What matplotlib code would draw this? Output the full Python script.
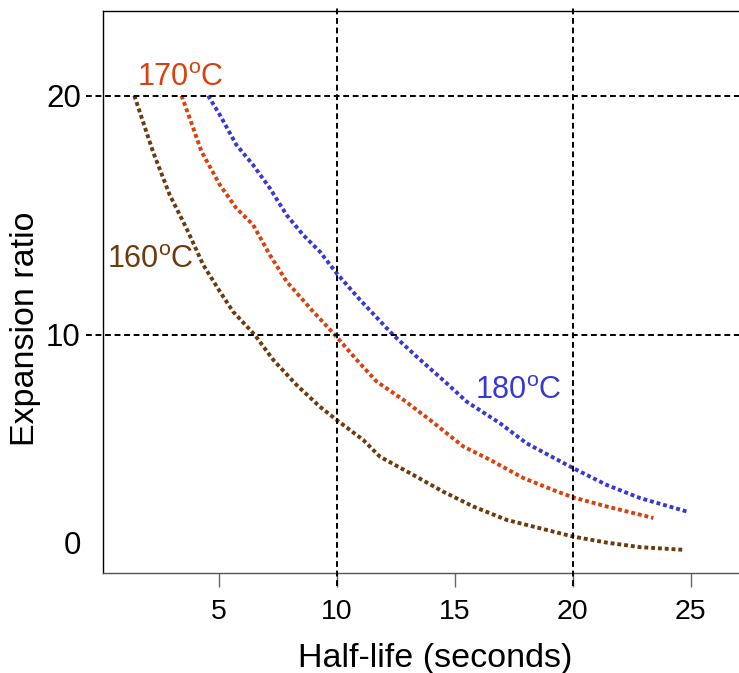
import matplotlib

matplotlib.use("Agg")
import matplotlib.pyplot as plt

plt.rcParams["font.family"] = ["Liberation Sans", "DejaVu Sans"]
plt.rcParams["mathtext.fontset"] = "custom"
plt.rcParams["mathtext.rm"] = "Liberation Sans"

# Curves (half-life in seconds, expansion ratio)
half_life_160 = [1.4, 2.19, 2.90, 3.61, 4.32, 5.03, 5.59, 6.51, 7.29, 8.28, 9.27, 9.98,
                 11.11, 11.82, 13.23, 14.50, 15.78, 17.19, 18.61, 20.02, 21.44, 22.86, 24.69]
ratio_160 = [20.0, 17.66, 15.85, 14.46, 12.93, 11.81, 10.97, 10.0, 8.96, 7.91, 7.00, 6.45,
             5.61, 4.91, 4.15, 3.45, 2.83, 2.27, 1.92, 1.57, 1.32, 1.13, 1.02]

half_life_170 = [3.40, 3.75, 4.10, 4.25, 5.03, 5.73, 6.44, 7.15, 7.86, 8.99, 9.91, 10.83,
                 11.68, 12.81, 13.94, 15.35, 16.49, 17.90, 19.32, 20.02, 21.44, 23.42]
ratio_170 = [20.0, 19.06, 18.08, 17.66, 16.27, 15.29, 14.60, 13.34, 12.23, 10.97, 10.0, 8.96,
             8.05, 7.29, 6.45, 5.34, 4.78, 4.02, 3.46, 3.21, 2.83, 2.35]

half_life_180 = [4.53, 5.03, 5.73, 6.44, 7.15, 7.86, 8.56, 9.27, 9.98, 10.97, 12.38, 13.38,
                 14.65, 15.50, 16.91, 18.04, 20.02, 21.44, 22.86, 24.84]
ratio_180 = [20.0, 19.19, 17.94, 17.10, 16.13, 15.01, 14.18, 13.48, 12.58, 11.47, 10.0, 9.09,
             7.98, 7.21, 6.31, 5.47, 4.43, 3.73, 3.18, 2.62]

x_ticks = [5, 10, 15, 20, 25]
y_ticks = [1.31, 10, 20]
y_tick_labels = ["0", "10", "20"]
grid_x = [10, 20]
grid_y = [10, 20]

BROWN = "#6E3A0B"
RED = "#D9400F"
BLUE = "#3838D6"

W, H = 739, 673
fig = plt.figure(figsize=(W / 100, H / 100), dpi=100, facecolor="white")
# axes run a little past the right edge, as in the cropped original
ax = fig.add_axes([103 / W, 1 - 573 / H, (767 - 103) / W, (573 - 10.7) / H])
ax.set_xlim(0.07, 28.24)
ax.set_ylim(0.05, 23.55)

dot = dict(linestyle=(0, (1, 0.75)), linewidth=2.8, dash_capstyle="butt")
ax.plot(half_life_160, ratio_160, color=BROWN, **dot)
ax.plot(half_life_170, ratio_170, color=RED, **dot)
ax.plot(half_life_180, ratio_180, color=BLUE, **dot)

# dashed reference lines, poking out of the frame like ticks
dash = dict(color="black", linewidth=1.4, linestyle=(0, (3, 1.9)), clip_on=False, zorder=3)
for gx in grid_x:
    ax.plot([gx, gx], [-0.49, 23.66], **dash)
for gy in grid_y:
    ax.plot([-0.66, 28.24], [gy, gy], **dash)

ax.set_xticks(x_ticks)
ax.set_yticks(y_ticks)
ax.set_yticklabels(y_tick_labels)
ax.tick_params(axis="x", direction="out", length=10, width=1, color="#666666",
               labelsize=20.5, pad=9)
ax.tick_params(axis="y", length=0, labelsize=22.5, pad=16)

ax.spines["right"].set_visible(False)
ax.spines["bottom"].set_color("#555555")
for side in ["left", "top", "bottom"]:
    ax.spines[side].set_linewidth(1)

ax.text(1.5, 20.4, "170$^{\\rm o}$C", fontsize=22, color=RED, va="baseline")
ax.text(0.25, 12.78, "160$^{\\rm o}$C", fontsize=22, color=BROWN, va="baseline")
ax.text(15.85, 7.32, "180$^{\\rm o}$C", fontsize=22, color=BLUE, va="baseline")

fig.text(435 / W, 1 - 666.5 / H, "Half-life (seconds)", fontsize=24.5, ha="center", va="baseline")
fig.text(26 / W, 1 - 328.5 / H, "Expansion ratio", fontsize=24.5, rotation=90,
         ha="center", va="center")

fig.savefig("out.png", dpi=100, facecolor="white")
